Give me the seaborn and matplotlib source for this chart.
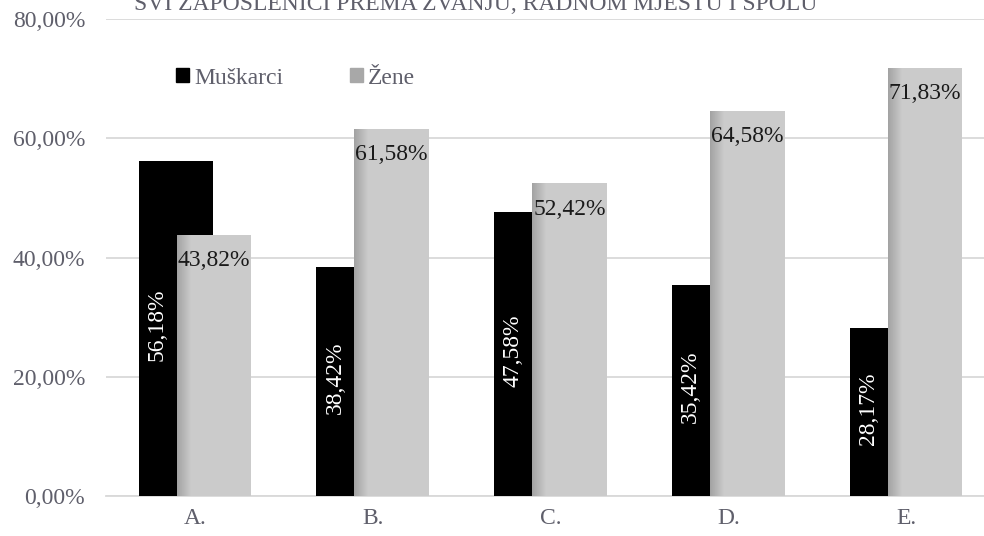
import numpy as np
import pandas as pd
import matplotlib
matplotlib.use("Agg")
import matplotlib.pyplot as plt
from matplotlib.patches import Patch
import seaborn as sns

# data
kategorije = ["A.", "B.", "C.", "D.", "E."]
muskarci = [56.18, 38.42, 47.58, 35.42, 28.17]
zene = [43.82, 61.58, 52.42, 64.58, 71.83]
y_ticks = [0, 20, 40, 60, 80]
naslov = "SVI ZAPOSLENICI PREMA ZVANJU, RADNOM MJESTU I SPOLU"

sns.set_style("white")
plt.rcParams["font.family"] = ["Liberation Serif", "DejaVu Serif"]
txt_col = "#5f5f6b"

df = pd.DataFrame({
    "kat": kategorije * 2,
    "val": muskarci + zene,
    "spol": ["Muškarci"] * len(kategorije) + ["Žene"] * len(kategorije),
})

fig = plt.figure(figsize=(9.84, 5.36), dpi=100)
ax = fig.add_axes([106 / 984, 40 / 536, 889 / 984, 477 / 536])

sns.barplot(data=df, x="kat", y="val", hue="spol", order=kategorije,
            hue_order=["Muškarci", "Žene"],
            palette={"Muškarci": "#000000", "Žene": "#cbcbcb"},
            saturation=1, ax=ax, legend=False, zorder=3)

ax.set_xlim(-0.5, 4.5)
ax.set_ylim(0, 80)

# overlapping bars (Excel style overlap)
w = 0.42
n = len(kategorije)
bars = ax.patches[:2 * n]
for i, p in enumerate(bars):
    k = i % n
    off = -0.107 if i < n else 0.107
    p.set_width(w)
    p.set_x(k + off - w / 2)
    p.set_edgecolor("none")

# soft shadow on left edge of grey bars, clipped to the bar
for k, v in enumerate(zene):
    x0 = k + 0.107 - w / 2
    grad = np.linspace(0.64, 0.80, 16).reshape(1, -1)
    im = ax.imshow(grad, extent=[x0, x0 + 0.08, 0, v], aspect="auto",
                   cmap="gray", vmin=0, vmax=1, zorder=4,
                   interpolation="bilinear")
    im.set_clip_path(bars[n + k])

ax.set_xlim(-0.5, 4.5)
ax.set_ylim(0, 80)
ax.set_yticks(y_ticks)
ax.set_yticklabels([f"{t:.2f}%".replace(".", ",") for t in y_ticks])
ax.grid(axis="y", color="#d9d9d9", linewidth=1.3, zorder=0)
ax.set_axisbelow(True)
for s in ["top", "right", "left"]:
    ax.spines[s].set_visible(False)
ax.spines["bottom"].set_color("#d9d9d9")
ax.spines["bottom"].set_linewidth(1.3)
ax.tick_params(axis="both", length=0, labelsize=17, colors=txt_col)
ax.tick_params(axis="x", pad=9)
ax.tick_params(axis="y", pad=15)
ax.set_xlabel("")
ax.set_ylabel("")

# value labels
for k in range(n):
    ax.text(k - 0.107 - w / 4, muskarci[k] / 2 + 0.6,
            f"{muskarci[k]:.2f}%".replace(".", ","), rotation=90,
            ha="center", va="center", color="white", fontsize=17, zorder=5)
    ax.text(k + 0.107, zene[k] - 4.3, f"{zene[k]:.2f}%".replace(".", ","),
            ha="center", va="center", color="#1a1a1a", fontsize=17, zorder=5)

# legend
handles = [Patch(color="#000000", label="Muškarci"),
           Patch(color="#a8a8a8", label="Žene")]
fig.legend(handles=handles, loc="center left",
           bbox_to_anchor=(155 / 984, 1 - 78 / 536),
           ncol=2, frameon=False, fontsize=17, handlelength=0.55,
           handleheight=0.55, handletextpad=0.2, columnspacing=2.85,
           labelcolor=txt_col)

fig.text(476 / 984, 1 - 10 / 536, naslov, ha="center", va="baseline",
         fontsize=17, color=txt_col)

fig.savefig("out.png", dpi=100)
